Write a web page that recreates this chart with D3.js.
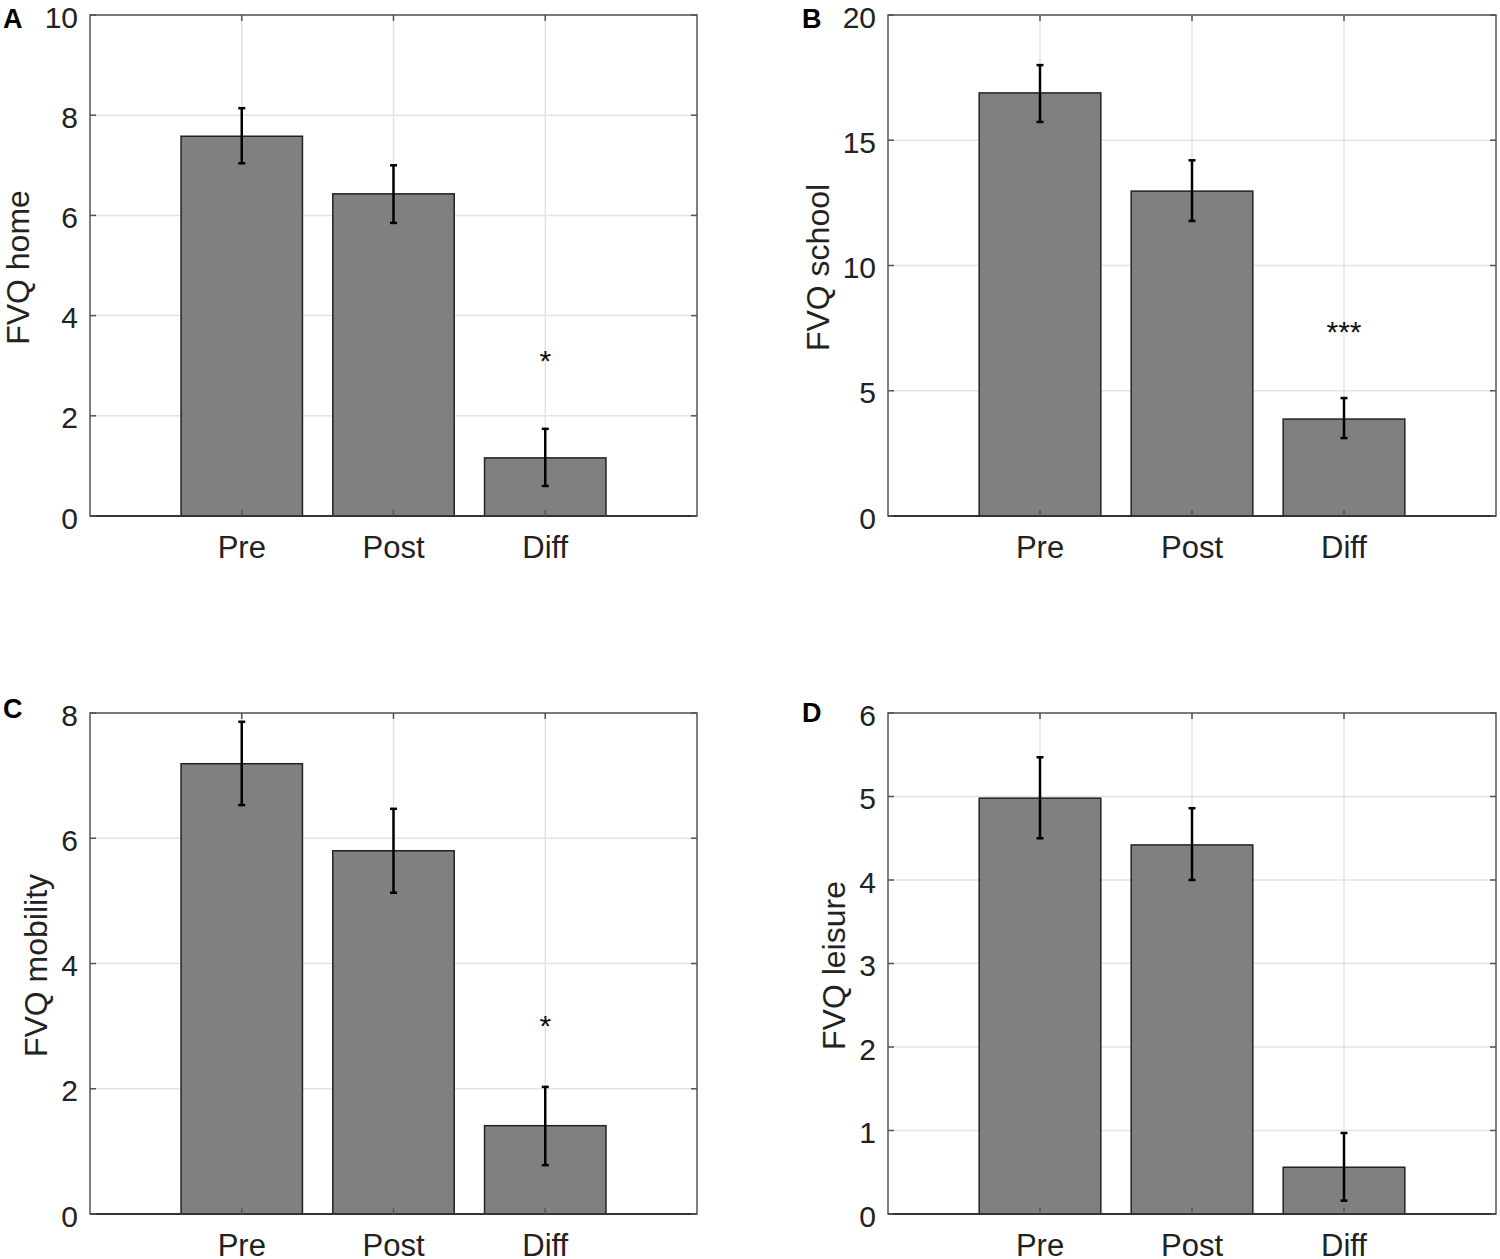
<!DOCTYPE html>
<html>
<head>
<meta charset="utf-8">
<script src="https://cdn.jsdelivr.net/npm/d3@7"></script>
<style>
  body { margin: 0; background: #fff; }
  svg { font-family: "Liberation Sans", Arial, sans-serif; }
</style>
</head>
<body>
<div id="chart"></div>
<script>
// categories shared by all panels
var categories = ["Pre", "Post", "Diff"];

// panel A - FVQ home
var homeMean = [7.58, 6.43, 1.16];
var homeLow  = [7.04, 5.85, 0.60];
var homeHigh = [8.14, 7.00, 1.74];
var homeStars = ["", "", "*"];
var homeStarY = 3.23;
var homeTicks = [0, 2, 4, 6, 8, 10];

// panel B - FVQ school
var schoolMean = [16.89, 12.97, 3.87];
var schoolLow  = [15.73, 11.78, 3.11];
var schoolHigh = [18.00, 14.20, 4.71];
var schoolStars = ["", "", "***"];
var schoolStarY = 7.62;
var schoolTicks = [0, 5, 10, 15, 20];

// panel C - FVQ mobility
var mobilityMean = [7.19, 5.80, 1.41];
var mobilityLow  = [6.53, 5.13, 0.78];
var mobilityHigh = [7.86, 6.47, 2.03];
var mobilityStars = ["", "", "*"];
var mobilityStarY = 3.11;
var mobilityTicks = [0, 2, 4, 6, 8];

// panel D - FVQ leisure
var leisureMean = [4.98, 4.42, 0.56];
var leisureLow  = [4.50, 4.00, 0.16];
var leisureHigh = [5.47, 4.86, 0.97];
var leisureStars = ["", "", ""];
var leisureStarY = 0;
var leisureTicks = [0, 1, 2, 3, 4, 5, 6];

var svg = d3.select("#chart").append("svg")
    .attr("width", 1500)
    .attr("height", 1259);

var panels = [
  {letter: "A", label: "FVQ home", mean: homeMean, low: homeLow, high: homeHigh,
   stars: homeStars, starY: homeStarY, ticks: homeTicks,
   box: {left: 90, right: 697, top: 15, bottom: 516}, labelX: 29, letterX: 3, letterY: 28},
  {letter: "B", label: "FVQ school", mean: schoolMean, low: schoolLow, high: schoolHigh,
   stars: schoolStars, starY: schoolStarY, ticks: schoolTicks,
   box: {left: 888, right: 1496, top: 15, bottom: 516}, labelX: 829, letterX: 802, letterY: 28},
  {letter: "C", label: "FVQ mobility", mean: mobilityMean, low: mobilityLow, high: mobilityHigh,
   stars: mobilityStars, starY: mobilityStarY, ticks: mobilityTicks,
   box: {left: 90, right: 697, top: 713, bottom: 1214}, labelX: 47, letterX: 3, letterY: 718},
  {letter: "D", label: "FVQ leisure", mean: leisureMean, low: leisureLow, high: leisureHigh,
   stars: leisureStars, starY: leisureStarY, ticks: leisureTicks,
   box: {left: 888, right: 1496, top: 713, bottom: 1214}, labelX: 845, letterX: 802, letterY: 722}
];

var tickLen = 6;
var gridColor = "#e3e3e3";
var axisColor = "#555";

panels.forEach(function(p) {
  var b = p.box;
  var x = d3.scaleLinear().domain([0, 4]).range([b.left, b.right]);
  var y = d3.scaleLinear().domain([0, d3.max(p.ticks)]).range([b.bottom, b.top]);
  var barW = x(0.8) - x(0);
  var g = svg.append("g");

  // grid lines
  g.selectAll(".hgrid").data(p.ticks).enter().append("line")
      .attr("x1", b.left).attr("x2", b.right)
      .attr("y1", function(d) { return y(d); }).attr("y2", function(d) { return y(d); })
      .attr("stroke", gridColor).attr("stroke-width", 1.5);
  g.selectAll(".vgrid").data(categories).enter().append("line")
      .attr("x1", function(d, i) { return x(i + 1); }).attr("x2", function(d, i) { return x(i + 1); })
      .attr("y1", b.top).attr("y2", b.bottom)
      .attr("stroke", gridColor).attr("stroke-width", 1.5);

  // bars
  g.selectAll(".bar").data(p.mean).enter().append("rect")
      .attr("x", function(d, i) { return x(i + 1) - barW / 2; })
      .attr("y", function(d) { return y(d); })
      .attr("width", barW)
      .attr("height", function(d) { return y(0) - y(d); })
      .attr("fill", "#808080")
      .attr("stroke", "#222").attr("stroke-width", 1.5);

  // error bars
  var eb = g.selectAll(".err").data(p.mean).enter().append("g");
  eb.append("line")
      .attr("x1", function(d, i) { return x(i + 1); }).attr("x2", function(d, i) { return x(i + 1); })
      .attr("y1", function(d, i) { return y(p.low[i]); }).attr("y2", function(d, i) { return y(p.high[i]); })
      .attr("stroke", "#000").attr("stroke-width", 2.5);
  [p.low, p.high].forEach(function(arr) {
    eb.append("line")
        .attr("x1", function(d, i) { return x(i + 1) - 3.5; }).attr("x2", function(d, i) { return x(i + 1) + 3.5; })
        .attr("y1", function(d, i) { return y(arr[i]); }).attr("y2", function(d, i) { return y(arr[i]); })
        .attr("stroke", "#000").attr("stroke-width", 2.5);
  });

  // significance stars
  g.selectAll(".star").data(p.stars).enter().append("text")
      .attr("x", function(d, i) { return x(i + 1); })
      .attr("y", y(p.starY) + 17)
      .attr("text-anchor", "middle")
      .attr("font-size", 30)
      .attr("fill", "#111")
      .text(function(d) { return d; });

  // box
  g.append("rect")
      .attr("x", b.left).attr("y", b.top)
      .attr("width", b.right - b.left).attr("height", b.bottom - b.top)
      .attr("fill", "none").attr("stroke", axisColor).attr("stroke-width", 1.5);
  g.append("line")
      .attr("x1", b.left).attr("x2", b.right).attr("y1", b.bottom).attr("y2", b.bottom)
      .attr("stroke", "#333").attr("stroke-width", 1.8);

  // inward tick marks on all four sides
  p.ticks.forEach(function(t) {
    g.append("line").attr("x1", b.left).attr("x2", b.left + tickLen)
        .attr("y1", y(t)).attr("y2", y(t)).attr("stroke", axisColor).attr("stroke-width", 1.5);
    g.append("line").attr("x1", b.right).attr("x2", b.right - tickLen)
        .attr("y1", y(t)).attr("y2", y(t)).attr("stroke", axisColor).attr("stroke-width", 1.5);
  });
  categories.forEach(function(c, i) {
    g.append("line").attr("x1", x(i + 1)).attr("x2", x(i + 1))
        .attr("y1", b.top).attr("y2", b.top + tickLen).attr("stroke", axisColor).attr("stroke-width", 1.5);
    g.append("line").attr("x1", x(i + 1)).attr("x2", x(i + 1))
        .attr("y1", b.bottom).attr("y2", b.bottom - tickLen).attr("stroke", axisColor).attr("stroke-width", 1.5);
  });

  // y tick labels
  g.selectAll(".ytl").data(p.ticks).enter().append("text")
      .attr("x", b.left - 12)
      .attr("y", function(d) { return y(d); })
      .attr("dy", "0.42em")
      .attr("text-anchor", "end")
      .attr("font-size", 30)
      .attr("fill", "#222")
      .text(function(d) { return d; });

  // x tick labels
  g.selectAll(".xtl").data(categories).enter().append("text")
      .attr("x", function(d, i) { return x(i + 1); })
      .attr("y", b.bottom + 42)
      .attr("text-anchor", "middle")
      .attr("font-size", 31)
      .attr("fill", "#222")
      .text(function(d) { return d; });

  // y axis label
  g.append("text")
      .attr("transform", "translate(" + p.labelX + "," + ((b.top + b.bottom) / 2 + 2) + ") rotate(-90)")
      .attr("text-anchor", "middle")
      .attr("font-size", 32)
      .attr("fill", "#222")
      .text(p.label);

  // panel letter
  g.append("text")
      .attr("x", p.letterX)
      .attr("y", p.letterY)
      .attr("font-size", 27)
      .attr("font-weight", "bold")
      .attr("fill", "#000")
      .text(p.letter);
});
</script>
</body>
</html>
